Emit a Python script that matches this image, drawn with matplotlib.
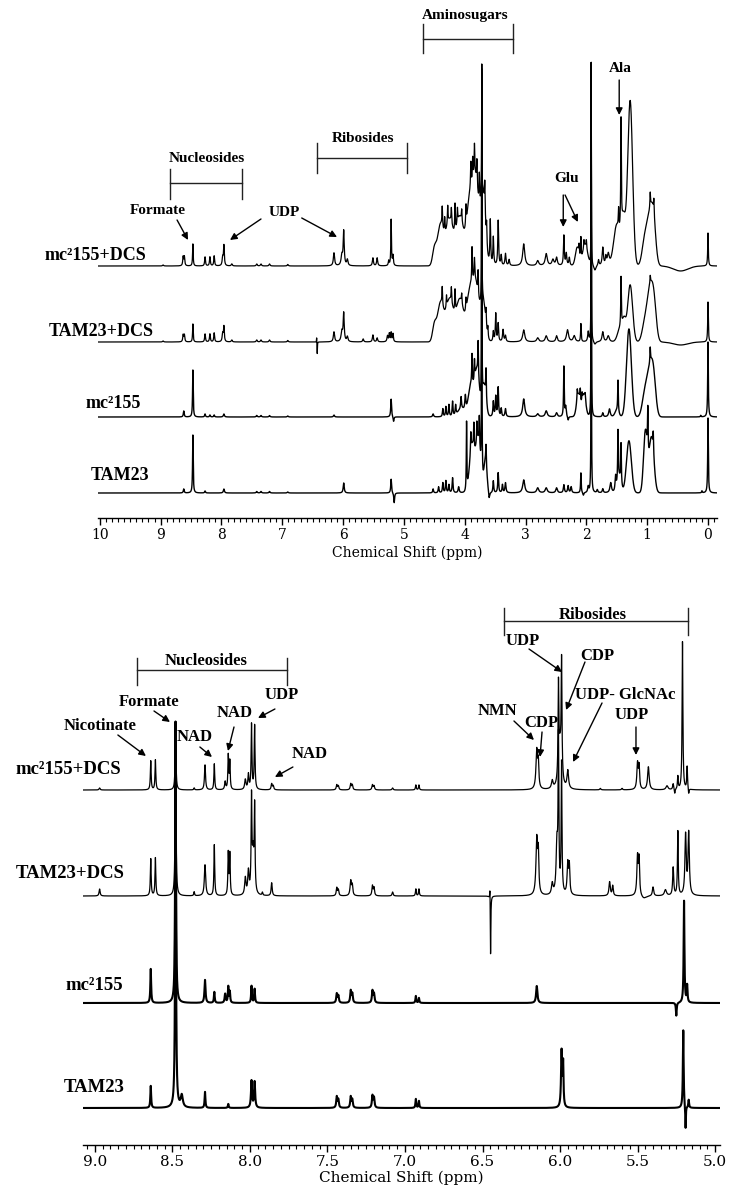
import numpy as np
import matplotlib
matplotlib.use("Agg")
import matplotlib.pyplot as plt
from matplotlib.ticker import MultipleLocator, FixedLocator

# ---------------- data: peak lists ----------------
# each peak: (ppm, height, half-width); humps: (ppm, height, sigma)
# heights are in pixels of the original figure

top_labels = ["mc\u00b2155+DCS", "TAM23+DCS", "mc\u00b2155", "TAM23"]
bottom_labels = ["mc\u00b2155+DCS", "TAM23+DCS", "mc\u00b2155", "TAM23"]

# ---- top panel (10 - 0 ppm) ----
top_mc155_dcs_peaks = [
    (8.96, 1, .01), (8.63, 9, .008), (8.61, 9, .008), (8.47, 22, .006),
    (8.27, 9, .008), (8.19, 9, .008), (8.12, 10, .008), (7.98, 8, .01),
    (7.96, 20, .008), (7.83, 2, .01), (7.42, 2, .01), (7.35, 2, .01),
    (7.21, 2, .01), (6.91, 1.5, .01), (6.15, 13, .012), (6.02, 10, .015),
    (5.99, 34, .01), (5.93, 6, .012), (5.51, 8, .01), (5.44, 8, .01),
    (5.25, 5, .008), (5.21, 46, .006), (5.18, 10, .008),
    (4.37, 20, .006), (4.33, 15, .006), (4.28, 18, .006), (4.22, 15, .006),
    (4.16, 28, .006), (4.12, 15, .006), (4.05, 12, .006), (3.98, 20, .006),
    (3.90, 25, .006), (3.87, 22, .006), (3.84, 30, .006), (3.80, 25, .006),
    (3.76, 30, .006), (3.72, 115, .003), (3.67, 30, .006), (3.64, 20, .006),
    (3.58, 45, .008), (3.53, 28, .008), (3.45, 45, .008), (3.40, 10, .008),
    (3.33, 12, .01), (3.27, 6, .01), (3.03, 22, .02), (2.80, 5, .02),
    (2.66, 12, .02), (2.55, 6, .02), (2.49, 8, .015), (2.37, 30, .008),
    (2.33, 12, .01), (2.28, 8, .01), (2.12, 10, .006), (2.09, 22, .006),
    (2.04, 8, .006), (2.00, 8, .006), (1.92, 203, .003), (1.86, -5, .02),
    (1.80, 6, .01), (1.73, 18, .012), (1.68, 8, .01), (1.64, 12, .02),
    (1.47, 20, .006), (1.43, 110, .006), (0.95, 15, .006), (0.89, 15, .006),
    (0.00, 33, .006),
]
top_mc155_dcs_humps = [
    (4.50, 15, .03), (4.40, 40, .05), (4.25, 45, .06), (4.08, 48, .06),
    (3.92, 60, .05), (3.82, 80, .05), (3.70, 70, .04), (2.15, 18, .03),
    (2.02, 20, .04), (1.50, 40, .05), (1.39, 45, .035), (1.28, 165, .04),
    (1.05, 18, .04), (0.97, 42, .05), (0.90, 42, .04), (0.45, -5, .12),
]

top_tam23_dcs_peaks = [
    (8.96, 1, .01), (8.63, 7, .008), (8.61, 7, .008), (8.47, 18, .006),
    (8.27, 8, .008), (8.19, 8, .008), (8.12, 9, .008), (7.98, 8, .01),
    (7.96, 15, .008), (7.83, 2, .01), (7.42, 2, .01), (7.35, 2, .01),
    (7.21, 2, .01), (6.91, 1.5, .01), (6.435, 5, .003), (6.425, -12, .003),
    (6.15, 10, .012), (6.02, 10, .015), (5.99, 28, .01), (5.93, 5, .012),
    (5.67, 3, .01), (5.51, 7, .01), (5.44, 4, .01), (5.27, 6, .01),
    (5.24, 8, .008), (5.21, 9, .008), (5.18, 8, .008),
    (4.37, 18, .006), (4.30, 12, .006), (4.22, 15, .006), (4.16, 22, .006),
    (4.05, 10, .006), (3.98, 12, .006), (3.88, 35, .006), (3.84, 20, .006),
    (3.78, 25, .006), (3.72, 230, .003), (3.65, 15, .006), (3.62, 10, .006),
    (3.53, 10, .008), (3.49, 28, .008), (3.45, 18, .008), (3.37, 12, .01),
    (3.33, 6, .01), (3.03, 12, .02), (2.80, 4, .02), (2.66, 6, .02),
    (2.49, 6, .015), (2.31, 12, .02), (2.20, 6, .02), (2.09, 18, .006),
    (1.97, 10, .01), (1.92, 279, .003), (1.86, -3, .02), (1.73, 10, .015),
    (1.64, 6, .02), (1.43, 50, .006), (0.95, 8, .006), (0.00, 40, .006),
]
top_tam23_dcs_humps = [
    (4.50, 15, .03), (4.40, 38, .05), (4.25, 42, .06), (4.08, 42, .06),
    (3.92, 45, .05), (3.82, 55, .05), (3.70, 40, .04), (1.45, 12, .04),
    (1.38, 20, .03), (1.28, 57, .04), (1.05, 13, .04), (0.96, 48, .05),
    (0.89, 34, .04), (0.45, -3, .12),
]

top_mc155_peaks = [
    (8.62, 6, .008), (8.47, 47, .006), (8.27, 3, .008), (8.19, 2, .008),
    (8.12, 2, .008), (7.96, 3, .01), (7.42, 1.5, .01), (7.35, 1.5, .01),
    (7.21, 1.5, .01), (6.91, 1, .01), (6.15, 2, .01), (5.21, 18, .008),
    (5.17, -5, .008), (4.52, 3, .01), (4.36, 8, .008), (4.31, 10, .008),
    (4.26, 12, .008), (4.20, 15, .008), (4.15, 10, .008), (4.06, 12, .008),
    (3.99, 15, .01), (3.88, 30, .006), (3.84, 20, .006), (3.78, 35, .006),
    (3.72, 325, .003), (3.65, 30, .006), (3.53, 15, .008), (3.49, 20, .008),
    (3.45, 29, .008), (3.40, 8, .008), (3.33, 8, .01), (3.03, 18, .02),
    (2.80, 3, .02), (2.66, 6, .02), (2.49, 4, .015), (2.37, 50, .006),
    (2.34, 10, .01), (2.30, -4, .01), (2.15, 10, .006), (2.10, 12, .006),
    (2.07, 8, .006), (2.02, 6, .006), (1.92, 354, .003), (1.73, 4, .01),
    (1.62, 8, .015), (1.48, 32, .006), (0.95, 15, .006), (0.12, 1.5, .006),
    (0.00, 75, .006),
]
top_mc155_humps = [
    (4.05, 8, .06), (3.90, 30, .04), (3.80, 45, .04), (3.68, 30, .03),
    (2.13, 22, .03), (2.04, 22, .03), (1.50, 6, .03), (1.30, 88, .04),
    (1.05, 15, .04), (0.97, 40, .05), (0.90, 38, .04),
]

top_tam23_peaks = [
    (8.62, 4, .008), (8.47, 58, .006), (8.27, 2, .008), (7.96, 4, .01),
    (7.42, 1.5, .01), (7.35, 1.5, .01), (7.21, 1.5, .01), (6.91, 1, .01),
    (5.99, 10, .01), (5.21, 14, .008), (5.16, -10, .008), (4.52, 4, .008),
    (4.43, 6, .008), (4.36, 10, .008), (4.31, 12, .008), (4.26, 8, .008),
    (4.20, 15, .008), (4.10, 6, .01), (3.97, 68, .005), (3.90, 20, .006),
    (3.85, 25, .006), (3.80, 20, .006), (3.76, 30, .006), (3.72, 410, .003),
    (3.65, 20, .006), (3.60, -7, .01), (3.53, 12, .008), (3.45, 20, .008),
    (3.38, 8, .008), (3.33, 10, .01), (3.03, 13, .02), (2.80, 5, .02),
    (2.66, 5, .02), (2.49, 5, .015), (2.37, 8, .01), (2.30, 7, .01),
    (2.25, 6, .01), (2.09, 20, .006), (2.05, -3, .01), (1.97, 6, .01),
    (1.92, 430, .003), (1.82, 3, .01), (1.73, 4, .01), (1.60, 10, .015),
    (1.52, 15, .01), (1.48, 50, .006), (1.43, 40, .006), (0.99, 45, .006),
    (0.90, 20, .006), (0.10, 2, .006), (0.00, 75, .006),
]
top_tam23_humps = [
    (3.88, 45, .04), (3.78, 50, .04), (3.66, 30, .025), (1.46, 15, .03),
    (1.30, 52, .04), (1.03, 60, .03), (0.93, 55, .04),
]

# ---- bottom panel (9 - 5 ppm) ----
bot_mc155_dcs_peaks = [
    (8.97, 2, .004), (8.64, 29, .003), (8.61, 30, .003), (8.48, 68, .003),
    (8.36, 2, .003), (8.29, 25, .004), (8.23, 26, .003), (8.16, 8, .004),
    (8.14, 34, .003), (8.13, 28, .003), (8.03, 10, .005), (8.01, 15, .004),
    (7.99, 65, .003), (7.97, 64, .003), (7.86, 6, .004), (7.85, 4, .004),
    (7.44, 5, .004), (7.43, 4, .004), (7.35, 6, .004), (7.34, 5, .004),
    (7.21, 5, .004), (7.20, 4, .004), (7.08, 2, .004), (6.93, 5, .003),
    (6.91, 5, .003), (6.15, 39, .006), (6.14, 24, .004), (6.05, 8, .006),
    (6.01, 90, .003), (6.00, 40, .01), (5.99, 113, .003), (5.95, 18, .006),
    (5.74, 1.5, .004), (5.60, 1.5, .004), (5.50, 26, .005), (5.49, 22, .004),
    (5.43, 23, .006), (5.31, 4, .008), (5.27, 6, .004), (5.26, -5, .003),
    (5.24, 13, .003), (5.21, 148, .003), (5.18, 23, .003), (5.17, -6, .003),
]
bot_tam23_dcs_peaks = [
    (8.97, 7, .004), (8.64, 37, .003), (8.61, 38, .003), (8.48, 174, .003),
    (8.36, 4, .003), (8.29, 31, .005), (8.23, 51, .003), (8.14, 42, .003),
    (8.13, 41, .003), (8.03, 17, .005), (8.01, 23, .005), (7.99, 92, .003),
    (7.98, 40, .006), (7.97, 83, .003), (7.92, 3, .003), (7.86, 13, .004),
    (7.44, 8, .004), (7.43, 6, .004), (7.35, 15, .005), (7.34, 10, .004),
    (7.21, 10, .004), (7.20, 8, .004), (7.08, 4, .004), (6.93, 7, .003),
    (6.91, 7, .003), (6.452, 16, .002), (6.448, -61, .002), (6.15, 56, .006),
    (6.14, 38, .004), (6.05, 11, .006), (6.02, 49, .006), (6.01, 150, .003),
    (5.99, 130, .003), (5.95, 31, .005), (5.94, 28, .004), (5.68, 14, .005),
    (5.66, 10, .004), (5.50, 39, .005), (5.49, 35, .004), (5.46, -3, .02),
    (5.40, 9, .005), (5.32, 6, .008), (5.27, 28, .004), (5.24, 64, .003),
    (5.19, 60, .005), (5.17, 62, .005),
]
bot_mc155_peaks = [
    (8.64, 34, .003), (8.48, 281, .003), (8.29, 23, .004), (8.23, 11, .003),
    (8.16, 9, .004), (8.14, 16, .003), (8.13, 11, .003), (7.99, 17, .003),
    (7.97, 14, .003), (7.44, 9, .004), (7.43, 7, .004), (7.35, 12, .004),
    (7.34, 9, .004), (7.21, 12, .004), (7.20, 9, .004), (6.93, 7, .003),
    (6.91, 5, .003), (6.15, 17, .005), (5.25, -13, .003), (5.20, 102, .003),
    (5.18, 17, .003),
]
bot_tam23_peaks = [
    (8.64, 22, .003), (8.48, 386, .003), (8.44, 12, .008), (8.29, 16, .003),
    (8.14, 4, .003), (7.99, 27, .004), (7.97, 26, .004), (7.44, 11, .004),
    (7.43, 8, .004), (7.35, 11, .004), (7.34, 8, .004), (7.21, 12, .004),
    (7.20, 10, .004), (6.93, 9, .003), (6.91, 7, .003), (5.99, 56, .004),
    (5.98, 42, .003), (5.205, 78, .003), (5.19, -23, .002), (5.17, 8, .003),
]


def spectrum(ppm, peaks, humps=()):
    y = np.zeros_like(ppm)
    for c, h, w in peaks:
        y += h * w ** 2 / ((ppm - c) ** 2 + w ** 2)
    for c, h, s in humps:
        y += h * np.exp(-0.5 * ((ppm - c) / s) ** 2)
    return y


serif_bold = dict(family=["Liberation Serif", "DejaVu Serif"], fontweight="bold", color="black")
axis_font = ["DejaVu Serif"]


def bracket(ax, x1, x2, yh, ylo, yhi):
    kw = dict(color="#222222", lw=1.0, clip_on=False)
    ax.plot([x1, x2], [yh, yh], **kw)
    ax.plot([x1, x1], [ylo, yhi], **kw)
    ax.plot([x2, x2], [ylo, yhi], **kw)


def arrow(ax, start, tip):
    ax.annotate("", xy=tip, xytext=start, annotation_clip=False,
                arrowprops=dict(arrowstyle="-|>", color="black", lw=1.0,
                                mutation_scale=10, shrinkA=0, shrinkB=0))


def style_axis(ax, major, minor, fmt, fs):
    for s in ["left", "right", "top"]:
        ax.spines[s].set_visible(False)
    ax.spines["bottom"].set_linewidth(1.0)
    ax.set_yticks([])
    ax.xaxis.set_major_locator(FixedLocator(major))
    ax.xaxis.set_minor_locator(MultipleLocator(minor))
    ax.set_xticklabels([fmt.format(v) for v in major], family=axis_font, fontsize=fs)
    ax.tick_params(axis="x", which="major", direction="out", length=5, width=1.0, pad=2)
    ax.tick_params(axis="x", which="minor", direction="out", length=3, width=0.8)


fig = plt.figure(figsize=(7.37, 11.94), dpi=100)

# ---------------- top panel ----------------
ax1 = fig.add_axes([98 / 737, 676 / 1194, 619 / 737, 518 / 1194])
ppm1 = np.arange(-0.148, 10.03, 0.001)[::-1]
top_sets = [(top_mc155_dcs_peaks, top_mc155_dcs_humps),
            (top_tam23_dcs_peaks, top_tam23_dcs_humps),
            (top_mc155_peaks, top_mc155_humps),
            (top_tam23_peaks, top_tam23_humps)]
top_offsets = [252, 176, 101, 25]
top_lw = [0.9, 0.9, 1.0, 1.0]
for (pk, hm), off, lw in zip(top_sets, top_offsets, top_lw):
    ax1.plot(ppm1, spectrum(ppm1, pk, hm) + off, color="black", lw=lw)
ax1.set_xlim(10.03, -0.148)
ax1.set_ylim(0, 518)
style_axis(ax1, list(range(10, -1, -1)), 0.1, "{:d}", 10)
ax1.set_xlabel("Chemical Shift (ppm)", family=axis_font, fontsize=10, labelpad=3)

for lab, x, y in zip(top_labels, [9.23, 9.11, 9.33, 9.19], [262, 186, 115, 42]):
    ax1.text(x, y, lab, ha="right", va="center", fontsize=13, **serif_bold)

ax1.text(4.00, 503, "Aminosugars", ha="center", va="center", fontsize=11, **serif_bold)
bracket(ax1, 4.69, 3.21, 479, 465, 494)
ax1.text(8.24, 359, "Nucleosides", ha="center", va="center", fontsize=11, **serif_bold)
bracket(ax1, 8.85, 7.66, 335, 319, 349)
ax1.text(5.67, 380, "Ribosides", ha="center", va="center", fontsize=11, **serif_bold)
bracket(ax1, 6.43, 4.95, 360, 345, 375)

ax1.text(9.05, 307, "Formate", ha="center", va="center", fontsize=11, **serif_bold)
arrow(ax1, (8.73, 298), (8.55, 278))
ax1.text(6.96, 306, "UDP", ha="center", va="center", fontsize=11, **serif_bold)
arrow(ax1, (7.35, 299), (7.86, 278))
arrow(ax1, (6.68, 300), (6.10, 281))
ax1.text(2.32, 340, "Glu", ha="center", va="center", fontsize=11, **serif_bold)
arrow(ax1, (2.38, 323), (2.38, 291))
arrow(ax1, (2.35, 323), (2.14, 296))
ax1.text(1.45, 449, "Ala", ha="center", va="center", fontsize=11, **serif_bold)
arrow(ax1, (1.46, 438), (1.46, 403))

# ---------------- bottom panel ----------------
ax2 = fig.add_axes([83 / 737, 49 / 1194, 637 / 737, 585 / 1194])
ppm2 = np.arange(4.968, 9.077, 0.0005)[::-1]
bot_sets = [bot_mc155_dcs_peaks, bot_tam23_dcs_peaks, bot_mc155_peaks, bot_tam23_peaks]
bot_offsets = [355, 249, 142, 37]
bot_lw = [0.9, 0.9, 1.5, 1.5]
for pk, off, lw in zip(bot_sets, bot_offsets, bot_lw):
    ax2.plot(ppm2, spectrum(ppm2, pk) + off, color="black", lw=lw)
ax2.set_xlim(9.077, 4.968)
ax2.set_ylim(0, 585)
style_axis(ax2, [9.0, 8.5, 8.0, 7.5, 7.0, 6.5, 6.0, 5.5, 5.0], 0.05, "{:.1f}", 11)
ax2.set_xlabel("Chemical Shift (ppm)", family=axis_font, fontsize=11, labelpad=1)

for lab, x, y in zip(bottom_labels, [8.83, 8.81, 8.82, 8.81], [375, 272, 160, 58]):
    ax2.text(x, y, lab, ha="right", va="center", fontsize=13.5, **serif_bold)

ax2.text(8.284, 484, "Nucleosides", ha="center", va="center", fontsize=12, **serif_bold)
bracket(ax2, 8.729, 7.761, 475, 460, 487)
ax2.text(5.787, 530, "Ribosides", ha="center", va="center", fontsize=12, **serif_bold)
bracket(ax2, 6.361, 5.174, 524, 510, 537)

notes = [
    ("Formate", 8.652, 443, (8.619, 434), (8.516, 423)),
    ("Nicotinate", 8.968, 419, (8.852, 410), (8.671, 389)),
    ("NAD", 8.355, 408, (8.323, 398), (8.245, 388)),
    ("NAD", 8.097, 432, (8.103, 418), (8.142, 394)),
    ("UDP", 7.794, 450, (7.839, 436), (7.948, 427)),
    ("NAD", 7.613, 391, (7.723, 378), (7.839, 368)),
    ("UDP", 6.239, 504, (6.200, 496), (5.987, 473)),
    ("CDP", 5.761, 489, (5.839, 483), (5.961, 435)),
    ("NMN", 6.406, 434, (6.297, 424), (6.168, 405)),
    ("CDP", 6.123, 422, (6.116, 413), (6.129, 388)),
    ("UDP- GlcNAc", 5.581, 450, (5.729, 442), (5.916, 383)),
    ("UDP", 5.535, 430, (5.510, 418), (5.510, 390)),
]
for txt, x, y, s, t in notes:
    ax2.text(x, y, txt, ha="center", va="center", fontsize=12, **serif_bold)
    arrow(ax2, s, t)

fig.savefig("out.png", dpi=100, facecolor="white")
